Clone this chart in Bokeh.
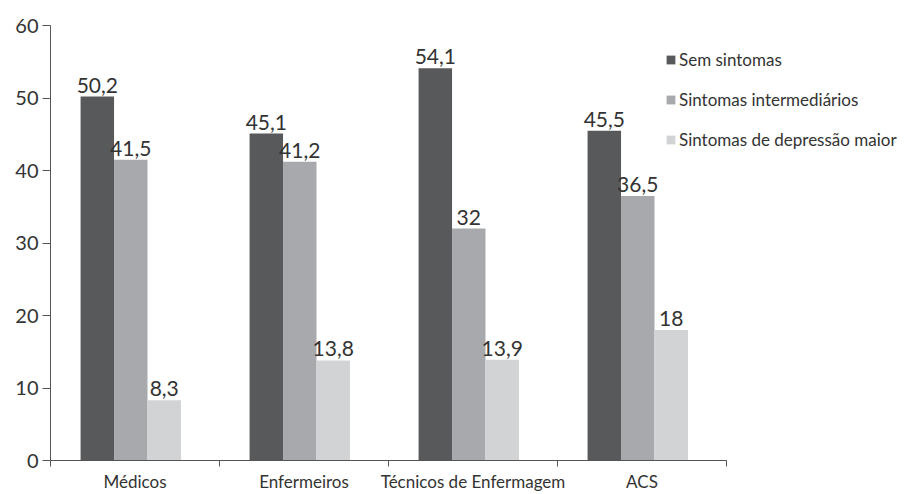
from bokeh.plotting import figure
from bokeh.models import Range1d, FixedTicker, Legend, LegendItem, ColumnDataSource
from bokeh.core.properties import value
from bokeh.embed import file_html
from bokeh.resources import INLINE

categories = ["Médicos", "Enfermeiros", "Técnicos de Enfermagem", "ACS"]
series_names = ["Sem sintomas", "Sintomas intermediários", "Sintomas de depressão maior"]
sem_sintomas = [50.2, 45.1, 54.1, 45.5]
intermediarios = [41.5, 41.2, 32.0, 36.5]
depressao_maior = [8.3, 13.8, 13.9, 18.0]
value_labels = [["50,2", "45,1", "54,1", "45,5"],
                ["41,5", "41,2", "32", "36,5"],
                ["8,3", "13,8", "13,9", "18"]]
y_ticks = [0, 10, 20, 30, 40, 50, 60]

colors = ["#58595b", "#a7a9ac", "#d1d3d4"]
FONT = "Lato"
TXT = "#333333"

n = len(categories)
frame_w = 918 - 50
cat_px = 169
p = figure(width=918, height=494, output_backend="svg", toolbar_location=None,
           x_range=Range1d(0, frame_w / cat_px), y_range=Range1d(0, 60))
p.min_border_left = 50
p.min_border_right = 0
p.min_border_top = 25
p.min_border_bottom = 30
p.outline_line_color = None
p.xgrid.visible = False
p.ygrid.visible = False
p.background_fill_color = "white"

series = [sem_sintomas, intermediarios, depressao_maior]
bw = 0.198
offsets = [-bw, 0.0, bw]
shift = -0.025
renderers = []
for k, vals in enumerate(series):
    xs = [i + 0.5 + shift + offsets[k] for i in range(n)]
    src = ColumnDataSource(dict(x=xs, top=vals, lab=value_labels[k]))
    r = p.vbar(x="x", top="top", width=bw, bottom=0, source=src,
               fill_color=colors[k], line_color=None)
    renderers.append(r)
    p.text(x="x", y="top", text="lab", source=src, text_align="center",
           text_baseline="bottom", y_offset=-4, text_font=value(FONT),
           text_font_size="21px", text_color=TXT)

# axes
xa = p.xaxis[0]
xa.bounds = (0, n)
xa.ticker = FixedTicker(ticks=[i + 0.5 for i in range(n)],
                        minor_ticks=list(range(n + 1)))
xa.major_label_overrides = {i + 0.5: c for i, c in enumerate(categories)}
xa.major_tick_out = 0
xa.major_tick_in = 0
xa.minor_tick_out = 6
xa.minor_tick_in = 0
xa.minor_tick_line_color = "#555555"
xa.axis_line_color = "#555555"
xa.major_label_text_font = FONT
xa.major_label_text_font_size = "17px"
xa.major_label_text_color = TXT
xa.major_label_standoff = 4

ya = p.yaxis[0]
ya.bounds = (0, 60)
ya.ticker = FixedTicker(ticks=y_ticks)
ya.minor_tick_line_color = None
ya.major_tick_out = 8
ya.major_tick_in = 0
ya.major_tick_line_color = "#555555"
ya.axis_line_color = "#555555"
ya.major_label_text_font = FONT
ya.major_label_text_font_size = "20px"
ya.major_label_text_color = TXT
ya.major_label_standoff = 4

legend = Legend(items=[LegendItem(label=series_names[k], renderers=[renderers[k]]) for k in range(3)],
                location=(615, 310), glyph_width=11, glyph_height=11, label_standoff=3,
                label_height=20, spacing=19, padding=0, margin=0,
                border_line_color=None, background_fill_alpha=0,
                label_text_font=FONT, label_text_font_size="17px", label_text_color=TXT)
p.add_layout(legend, "center")

open("out.html", "w").write(file_html(p, INLINE))
